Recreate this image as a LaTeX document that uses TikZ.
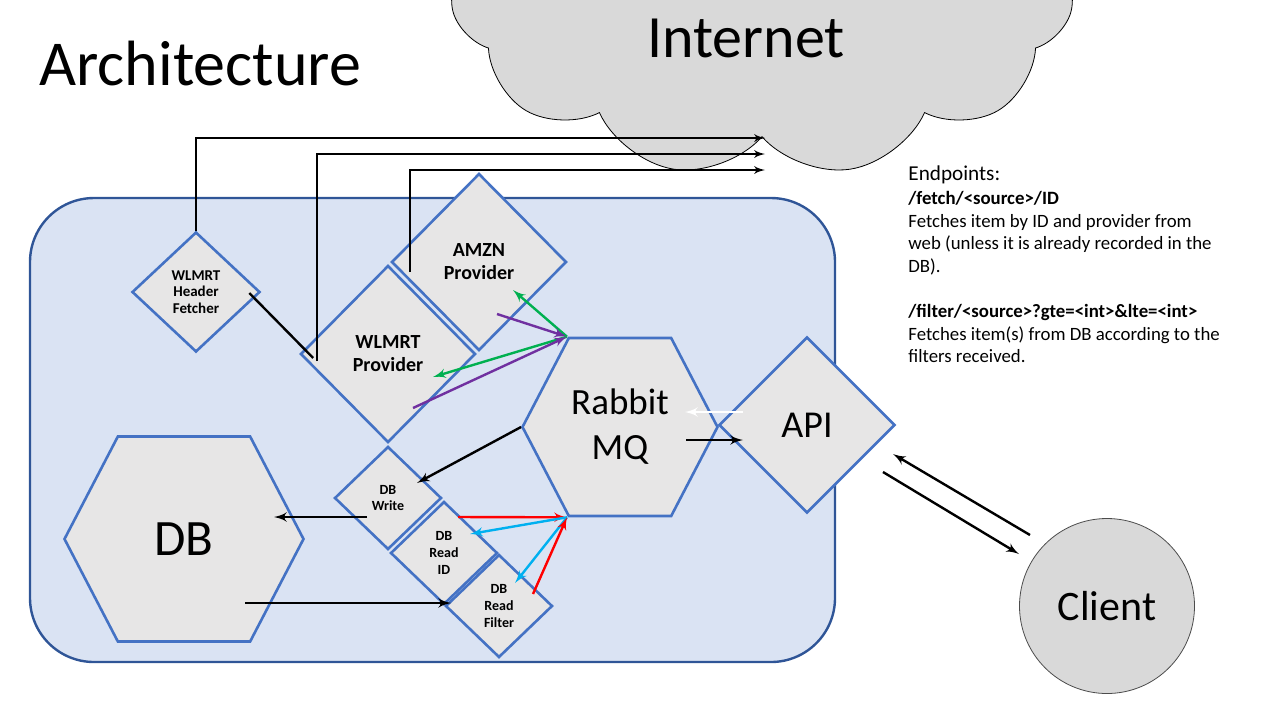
\documentclass[tikz,border=0pt]{standalone}
\usepackage{fontspec}
\setmainfont{Carlito}
\usepackage{tikz}
\usetikzlibrary{arrows,calc,positioning,shapes.geometric,shapes.symbols}
\tikzset{every picture/.style={
  >=latex'                      % LaTeX style arrows.
  }
}
\definecolor{panel}{HTML}{DAE3F3}
\definecolor{panelrim}{HTML}{2F5597}
\definecolor{boxfill}{HTML}{E7E6E6}
\definecolor{boxrim}{HTML}{4472C4}
\definecolor{cloudfill}{HTML}{D9D9D9}
\definecolor{msggreen}{HTML}{00B050}
\definecolor{msgpurple}{HTML}{7030A0}
\definecolor{msgred}{HTML}{FF0000}
\definecolor{msgblue}{HTML}{00B0F0}

\begin{document}
\begin{tikzpicture}[x=0.5pt,y=-0.5pt,
    svc/.style={                % Rounded panel holding the services.
      rectangle,
      rounded corners=32pt,
      draw=panelrim,
      fill=panel,
      line width=1.2pt,
      minimum width=402.5pt,
      minimum height=232pt
    },
    dmd/.style={                % Diamond shaped components.
      diamond,
      aspect=1,
      draw=boxrim,
      fill=boxfill,
      line width=1.3pt,
      inner sep=0pt,
      align=center
    },
    hexa/.style={               % Hexagon shaped components.
      signal,
      signal to=west and east,
      signal pointer angle=125,
      draw=boxrim,
      fill=boxfill,
      line width=1.3pt,
      inner sep=0pt,
      align=center
    },
    small/.style={              % Small bold captions.
      font=\fontsize{7}{8.3}\selectfont\bfseries,
      minimum width=53.5pt,
      minimum height=51.5pt
    },
    prov/.style={
      font=\fontsize{10}{11.5}\selectfont\bfseries,
      minimum width=87.5pt,
      minimum height=88.5pt
    },
    conn/.style={               % Black message arrows.
      ->,
      line width=1.2pt
    },
    web/.style={                % Lines out to the internet.
      ->,
      line width=0.9pt
    }]

    \clip (0,0) rectangle (1280,720);

    % Panel, title and the internet.
    \node[svc] (svc) at (432.5,430) {};
    \node[anchor=base west,inner sep=0pt,font=\fontsize{32}{32}\selectfont]
      (title) at (39,85) {Architecture};
    \node[cloud,cloud puffs=11,cloud puff arc=115,aspect=1.7,draw,
      fill=cloudfill,line width=0.4pt,minimum width=312pt,minimum height=192pt]
      (internet) at (762,-15) {};
    \node[anchor=base,inner sep=0pt,font=\fontsize{30}{30}\selectfont]
      (inettxt) at (746,57) {Internet};

    % Providers.
    \node[dmd,small,font=\fontsize{7.5}{8.3}\selectfont\bfseries,
      minimum width=64pt,minimum height=60pt]
      (hdrfetch) at (196,292) {WLMRT\\Header\\Fetcher};
    \node[dmd,prov] (amzn)  at (479,262) {AMZN\\Provider};
    \node[dmd,prov] (wprov) at (388,354) {WLMRT\\Provider};

    % Queue, API and database.
    \node[hexa,minimum width=97.5pt,minimum height=89pt,
      font=\fontsize{18.5}{22.5}\selectfont] (rabbit) at (620,427) {Rabbit\\MQ};
    \node[dmd,minimum width=88pt,minimum height=88pt,
      font=\fontsize{19}{20}\selectfont] (api) at (807,425) {API};
    \node[hexa,minimum width=119.5pt,minimum height=102.5pt,
      font=\fontsize{25.5}{26}\selectfont] (db) at (184,539) {DB};
    \node[dmd,small] (dbwrite) at (388,498) {DB\\Write};
    \node[dmd,small] (dbid)    at (444,553) {DB\\Read\\ID};
    \node[dmd,small] (dbfilt)  at (499,606) {DB\\Read\\Filter};

    % Client.
    \node[circle,draw=black!70,fill=cloudfill,line width=0.4pt,
      minimum size=87.5pt,font=\fontsize{21}{22}\selectfont]
      (client) at (1107,606) {Client};

    % Endpoint notes.
    \node[anchor=north west,inner sep=0pt,align=left,
      font=\fontsize{9.4}{11.3}\selectfont] (endpoints) at (908,165)
      {{\fontsize{10.6}{11.3}\selectfont Endpoints:}\\[1pt]
       \textbf{/fetch/<source>/ID}\\
       Fetches item by ID and provider from\\
       web (unless it is already recorded in the\\
       DB).\\[11.3pt]
       \textbf{/filter/<source>?gte=<int>\&lte=<int>}\\
       Fetches item(s) from DB according to the\\
       filters received.};

    % Corners of the queue.
    \coordinate (rtl) at ($(rabbit.north)+(-53,0)$);
    \coordinate (rbl) at ($(rabbit.south)+(-53,0)$);
    \coordinate (in1) at (765,138);
    \coordinate (in2) at (765,154);
    \coordinate (in3) at (765,170);

    % Requests to the internet.
    \draw[web] (hdrfetch.north) |- (in1);
    \draw[web] ($(wprov.west)+(18,7)$) |- (in2);
    \draw[web] ($(amzn.west)+(20,10)$) |- (in3);
    \draw[line width=1.2pt] ($(hdrfetch.east)+(-12,1)$)
      to ($(wprov.west)+(14,4)$);

    % Provider messages.
    \draw[conn,msggreen]  (rtl) to ($(amzn)+(34,28)$);
    \draw[conn,msgpurple] ($(amzn)+(18,52)$) to (rtl);
    \draw[conn,msggreen]  (rtl) to ($(wprov)+(45,23)$);
    \draw[conn,msgpurple] ($(wprov)+(25,54)$) to (rtl);

    % Database messages.
    \draw[conn] (rabbit.west) to ($(dbwrite)+(29,-15)$);
    \draw[conn,msgred]  ($(dbid)+(14,-36)$) to (rbl);
    \draw[conn,msgblue] (rbl) to ($(dbid)+(26,-19)$);
    \draw[conn,msgblue] (rbl) to ($(dbfilt)+(16,-23)$);
    \draw[conn,msgred]  ($(dbfilt)+(34,-12)$) to (rbl);
    \draw[conn] ($(dbwrite)+(-21,19)$) to ($(db)+(90,-22)$);
    \draw[conn] ($(db)+(61,64)$) to ($(dbfilt)+(-48,-3)$);

    % API traffic.
    \draw[conn,white] ($(api)+(-64,-13)$) to ($(rabbit)+(65,-15)$);
    \draw[conn] ($(rabbit)+(66,13)$) to ($(api)+(-64,15)$);
    \draw[conn] ($(client)+(-77,-71)$) to ($(api)+(86,29)$);
    \draw[conn] ($(api)+(76,47)$) to ($(client)+(-88,-52)$);
\end{tikzpicture}
\end{document}
